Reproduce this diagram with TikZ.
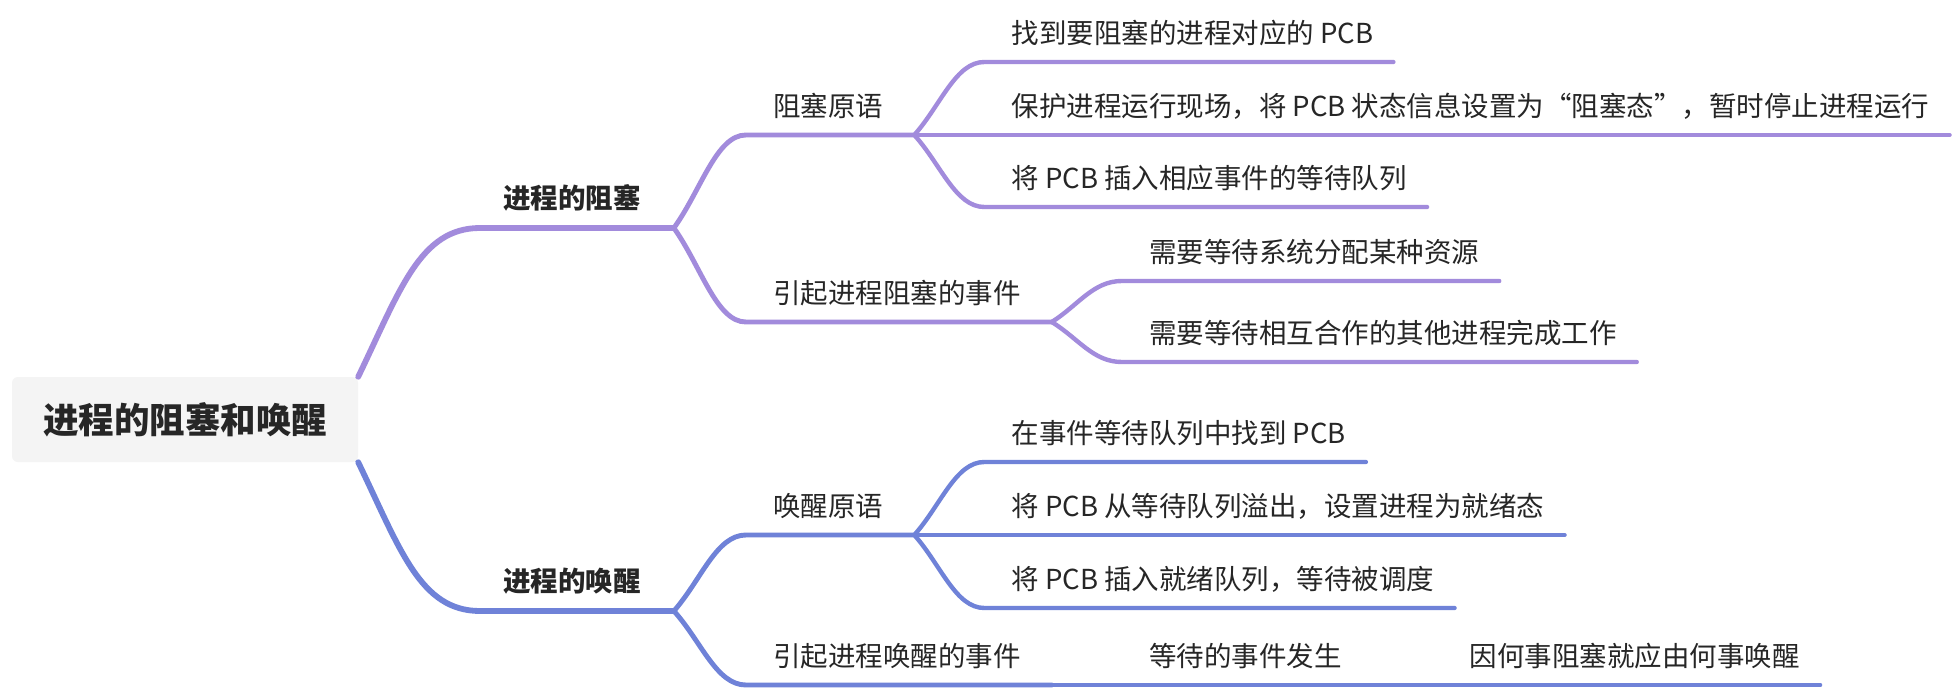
\documentclass[tikz,border=0pt]{standalone}
\usepackage{fontspec}
\setmainfont{Noto Sans CJK SC}
\usetikzlibrary{calc}
\definecolor{pur}{HTML}{A28BDC}
\definecolor{blu}{HTML}{6F82D8}
\definecolor{txt}{HTML}{262626}
\definecolor{rootfill}{HTML}{F4F4F4}
\tikzset{
  rootbox/.style={fill=rootfill, rounded corners=6pt, minimum width=346pt, minimum height=85pt,
    inner sep=0pt, text=txt, font=\fontsize{35.5}{40}\selectfont\bfseries},
  ttwo/.style={anchor=west, inner sep=0pt, text=txt, font=\fontsize{27.5}{33}\selectfont},
  tone/.style={ttwo, font=\fontsize{27.5}{33}\selectfont\bfseries},
  lwone/.style={line width=5.8pt, line cap=round},
  lwtwo/.style={line width=4.9pt, line cap=round},
  lwthree/.style={line width=4.4pt, line cap=round},
}
% #1 parent branch point, #2 name, #3 dx, #4 dy, #5 line style, #6 text style, #7 text, #8 end overhang
\newcommand\mmtopic[8]{%
  \coordinate (#2-s) at ($(#1)+(#3,#4)$);
  \node[#6] (#2) at ($(#2-s)+(27,-29)$) {#7};
  \path let \p1=(#2.east), \p2=(#2-s) in coordinate (#2-e) at (\x1+#8pt,\y2);
  \draw[#5] let \p1=(#1), \p2=(#2-s) in (#1) .. controls ({\x1+0.38*(\x2-\x1)},{\y1+0.41*(\y2-\y1)}) and ({\x2-0.41*(\x2-\x1)},\y2) .. (#2-s) -- (#2-e);
}
\begin{document}
\begin{tikzpicture}[x=1pt,y=-1pt]
\fill[white] (0,0) rectangle (1960,690);
\useasboundingbox (0,0) rectangle (1960,690);

\node[rootbox] (root) at (185,419.5) {进程的阻塞和唤醒};

% upper main branch
\coordinate (A-s) at (480,228);
\node[tone] (A) at ($(A-s)+(23,-30)$) {进程的阻塞};
\path let \p1=(A.east), \p2=(A-s) in coordinate (A-e) at (\x1+33pt,\y2);
\draw[lwone, pur] (root.north east) .. controls ($(root.north east)+(42,-87)$) and ($(A-s)+(-60,0)$) .. (A-s) -- (A-e);

% lower main branch
\coordinate (B-s) at (480,611);
\node[tone] (B) at ($(B-s)+(23,-30)$) {进程的唤醒};
\path let \p1=(B.east), \p2=(B-s) in coordinate (B-e) at (\x1+33pt,\y2);
\draw[lwone, blu] (root.south east) .. controls ($(root.south east)+(42,87)$) and ($(B-s)+(-60,0)$) .. (B-s) -- (B-e);

% level 2
\mmtopic{A-e}{AA}{72}{-93}{lwtwo,pur}{ttwo}{阻塞原语}{31}
\mmtopic{A-e}{AB}{72}{94}{lwtwo,pur}{ttwo}{引起进程阻塞的事件}{31}
\mmtopic{B-e}{BA}{72}{-76}{lwtwo,blu}{ttwo}{唤醒原语}{31}
\mmtopic{B-e}{BB}{72}{74}{lwtwo,blu}{ttwo}{引起进程唤醒的事件}{31}

% level 3
\mmtopic{AA-e}{AAA}{70}{-73}{lwthree,pur}{ttwo}{找到要阻塞的进程对应的 PCB}{20}
\mmtopic{AA-e}{AAB}{70}{0}{lwthree,pur}{ttwo}{保护进程运行现场，将 PCB 状态信息设置为“阻塞态”，暂时停止进程运行}{20}
\mmtopic{AA-e}{AAC}{70}{72}{lwthree,pur}{ttwo}{将 PCB 插入相应事件的等待队列}{20}
\mmtopic{AB-e}{ABA}{70}{-41}{lwthree,pur}{ttwo}{需要等待系统分配某种资源}{20}
\mmtopic{AB-e}{ABB}{70}{40}{lwthree,pur}{ttwo}{需要等待相互合作的其他进程完成工作}{20}

\mmtopic{BA-e}{BAA}{70}{-73}{lwthree,blu}{ttwo}{在事件等待队列中找到 PCB}{20}
\mmtopic{BA-e}{BAB}{70}{0}{lwthree,blu}{ttwo}{将 PCB 从等待队列溢出，设置进程为就绪态}{20}
\mmtopic{BA-e}{BAC}{70}{73}{lwthree,blu}{ttwo}{将 PCB 插入就绪队列，等待被调度}{20}
\mmtopic{BB-e}{BBA}{70}{0}{lwthree,blu}{ttwo}{等待的事件发生}{31}
\mmtopic{BBA-e}{BBB}{70}{0}{lwthree,blu}{ttwo}{因何事阻塞就应由何事唤醒}{20}
\end{tikzpicture}
\end{document}
